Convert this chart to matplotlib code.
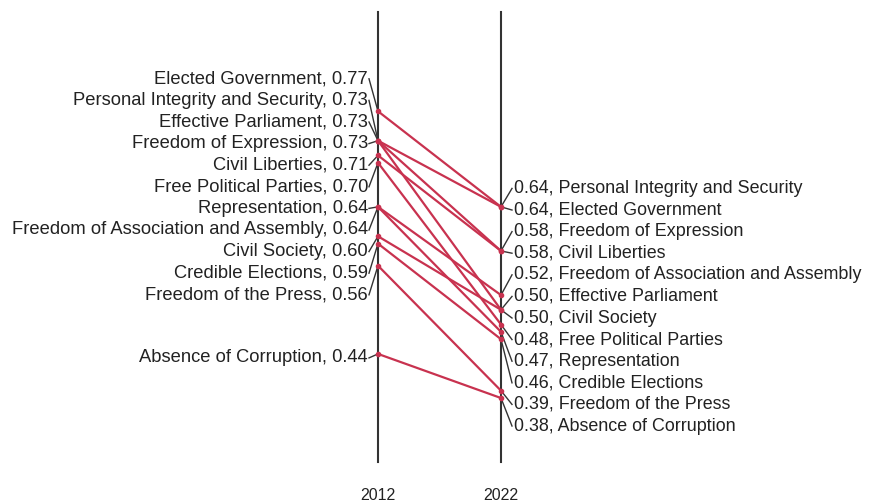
import matplotlib.pyplot as plt
import numpy as np

# Данные: индикаторы и значения 2012 / 2022
categories = ['Personal Integrity and Security', 'Elected Government', 'Effective Parliament',
              'Freedom of Expression', 'Civil Liberties', 'Free Political Parties',
              'Representation', 'Freedom of Association and Assembly', 'Civil Society',
              'Credible Elections', 'Freedom of the Press', 'Absence of Corruption']
values_2012 = [0.73, 0.77, 0.73, 0.73, 0.71, 0.70, 0.64, 0.64, 0.60, 0.59, 0.56, 0.44]
values_2022 = [0.64, 0.64, 0.50, 0.58, 0.58, 0.48, 0.47, 0.52, 0.50, 0.46, 0.39, 0.38]
years = [2012, 2022]

W, H = 869, 504
line_color = '#c8324f'
axis_color = '#333333'
text_color = '#222222'
fs_left = 13.2
fs_right = 12.9

plt.rcParams['font.family'] = ['Liberation Sans', 'DejaVu Sans']

fig = plt.figure(figsize=(W / 100, H / 100), dpi=100)
# оси: 2012 -> x=378px, 2022 -> x=501px, верх 12px, низ 462px
ax = fig.add_axes([378 / W, (H - 462) / H, (501 - 378) / W, (462 - 12) / H])
ymin, ymax = 0.293, 0.905
ax.set_xlim(years[0], years[1])
ax.set_ylim(ymin, ymax)

for s in ['top', 'bottom']:
    ax.spines[s].set_visible(False)
for s in ['left', 'right']:
    ax.spines[s].set_color(axis_color)
    ax.spines[s].set_linewidth(1.5)
ax.set_yticks([])
ax.set_xticks(years)
ax.set_xticklabels([str(y) for y in years], fontsize=11.5, color=text_color)
ax.tick_params(axis='x', length=0, pad=19)

# линии наклона
for v1, v2 in zip(values_2012, values_2022):
    ax.plot(years, [v1, v2], color=line_color, lw=1.6, marker='o', ms=3,
            solid_capstyle='round', clip_on=False, zorder=3)

px_per_unit = (462 - 12) / (ymax - ymin)
gap = 21.6 / px_per_unit
shift = 4.0 / px_per_unit
x_px = (years[1] - years[0]) / (501 - 378)


def spread(vals, gap):
    # раздвигаем подписи, чтобы они не перекрывались
    order = sorted(range(len(vals)), key=lambda i: -vals[i])
    groups = [[i] for i in order]

    def place(g):
        c = np.mean([vals[i] for i in g])
        n = len(g)
        return [c + gap * ((n - 1) / 2 - k) for k in range(n)]

    changed = True
    while changed:
        changed = False
        for k in range(len(groups) - 1):
            a, b = place(groups[k]), place(groups[k + 1])
            if a[-1] - b[0] < gap - 1e-9:
                groups[k] = groups[k] + groups[k + 1]
                del groups[k + 1]
                changed = True
                break
    pos = {}
    for g in groups:
        for i, y in zip(g, place(g)):
            pos[i] = y
    return [pos[i] for i in range(len(vals))]


left_pos = [p - shift for p in spread(values_2012, gap)]
right_pos = [p - 1.5 * shift for p in spread(values_2022, gap)]

for name, v, ly in zip(categories, values_2012, left_pos):
    ax.plot([years[0] - 9 * x_px, years[0]], [ly, v], color=axis_color, lw=1.0, clip_on=False, zorder=2)
    ax.text(years[0] - 10 * x_px, ly, f'{name}, {v:.2f}', ha='right', va='center',
            fontsize=fs_left, color=text_color, clip_on=False)

for name, v, ry in zip(categories, values_2022, right_pos):
    ax.plot([years[1], years[1] + 11 * x_px], [v, ry], color=axis_color, lw=1.0, clip_on=False, zorder=2)
    ax.text(years[1] + 13 * x_px, ry, f'{v:.2f}, {name}', ha='left', va='center',
            fontsize=fs_right, color=text_color, clip_on=False)

fig.savefig('out.png', dpi=100, facecolor='white')
